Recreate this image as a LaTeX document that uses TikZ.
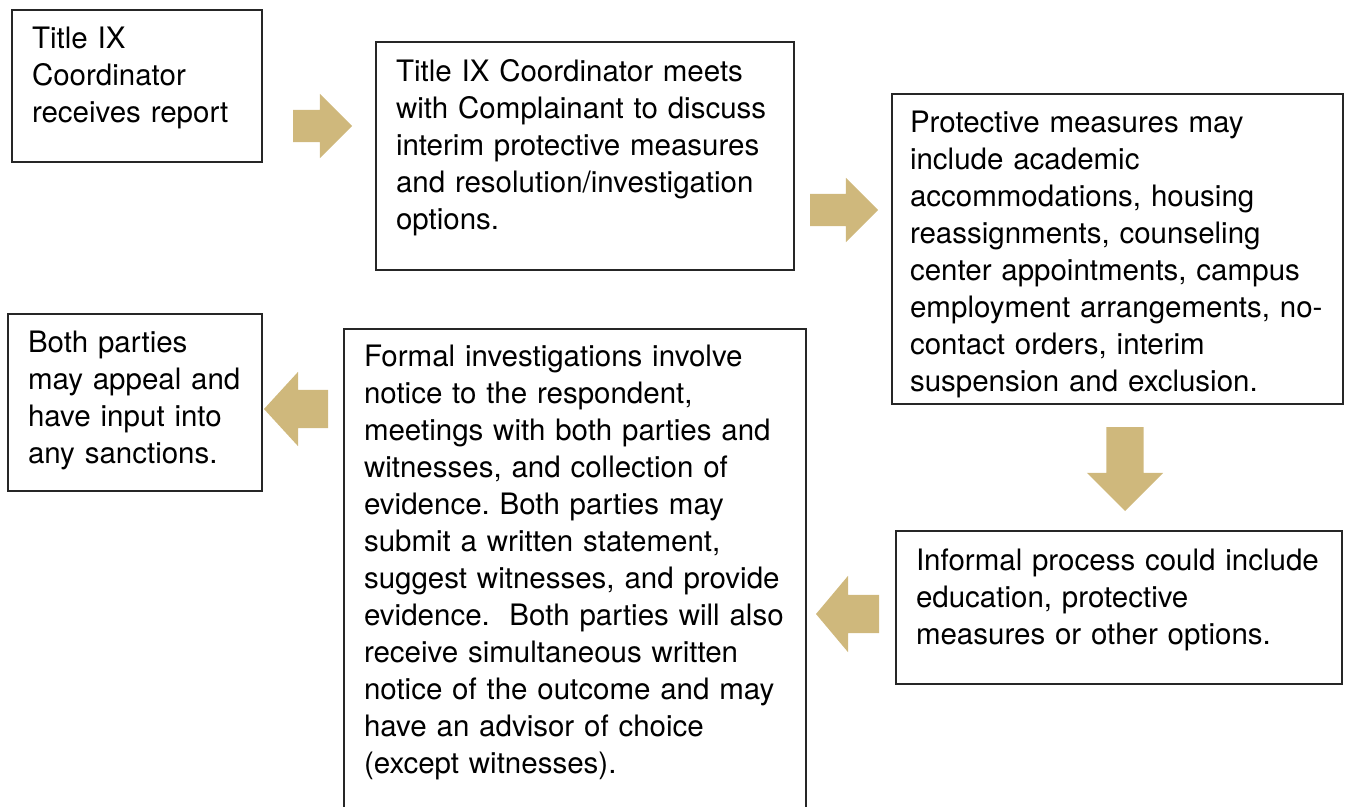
\documentclass[tikz,border=0pt]{standalone}
\usepackage{fontspec}
\setmainfont{TeX Gyre Heros}
\usetikzlibrary{shapes.arrows}
\definecolor{gold}{RGB}{207,184,124}
\frenchspacing

\begin{document}
\begin{tikzpicture}[x=1pt, y=-1pt,
  box/.style={draw=black!85, line width=2pt, anchor=base west, inner xsep=20pt, inner ysep=0pt, outer sep=0pt, align=left, font=\fontsize{29.5}{37}\selectfont},
  blockarrow/.style={single arrow, fill=gold, anchor=tip, inner sep=0pt, outer sep=0pt, text depth=0pt, single arrow tip angle=90}]
\useasboundingbox (0,0) rectangle (1348,806);
% boxes: left edge and first baseline
\node[box, text width=210pt, text height=38pt, text depth=114pt] (report) at (12,48) {Title IX\\Coordinator\\receives report};
\node[box, text width=378pt, text height=39pt, text depth=189pt] (meeting) at (376,81) {Title IX Coordinator meets\\with Complainant to discuss\\interim protective measures\\and resolution/investigation\\options.};
\node[box, inner xsep=18pt, text width=415pt, text height=38pt, text depth=272pt] (measures) at (892,132) {Protective measures may\\include academic\\accommodations, housing\\reassignments, counseling\\center appointments, campus\\employment arrangements, no-\\contact orders, interim\\suspension and exclusion.};
\node[box, text width=406pt, text height=39pt, text depth=114pt] (informal) at (896,570) {Informal process could include\\education, protective\\measures or other options.};
\node[box, text width=422pt, text height=37pt, text depth=446pt] (formal) at (344,366) {Formal investigations involve\\notice to the respondent,\\meetings with both parties and\\witnesses, and collection of\\evidence. Both parties may\\submit a written statement,\\suggest witnesses, and provide\\evidence.\ \ Both parties will also\\receive simultaneous written\\notice of the outcome and may\\have an advisor of choice\\(except witnesses).};
\node[box, text width=214pt, text height=38pt, text depth=139pt] (appeal) at (8,352) {Both parties\\may appeal and\\have input into\\any sanctions.};
% block arrows, placed at their tips
\node[blockarrow, minimum height=59pt, text height=32pt, single arrow head extend=16pt] (reporttomeeting) at (352,126) {};
\node[blockarrow, minimum height=68pt, text height=32pt, single arrow head extend=16pt] (meetingtomeasures) at (878,210) {};
\node[blockarrow, rotate=-90, minimum height=84pt, text height=37pt, single arrow head extend=19.5pt] (measurestoinformal) at (1125,511) {};
\node[blockarrow, rotate=180, minimum height=63pt, text height=38pt, single arrow head extend=19pt, single arrow tip angle=100] (informaltoformal) at (816,614) {};
\node[blockarrow, rotate=180, minimum height=64pt, text height=38pt, single arrow head extend=18pt, single arrow tip angle=95] (formaltoappeal) at (264,409) {};
\end{tikzpicture}
\end{document}
